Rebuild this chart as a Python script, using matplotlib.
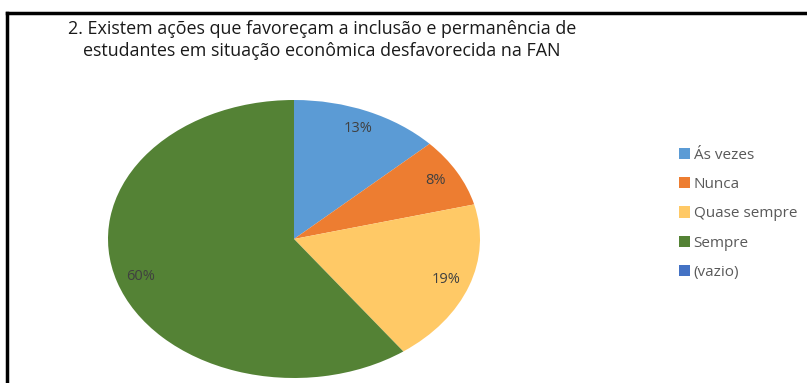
import matplotlib
matplotlib.use("Agg")
import matplotlib.pyplot as plt
from matplotlib.patches import Rectangle
import numpy as np

title = "2. Existem ações que favoreçam a inclusão e permanência de\nestudantes em situação econômica desfavorecida na FAN"
categories = ["Ás vezes", "Nunca", "Quase sempre", "Sempre", "(vazio)"]
values = [13, 8, 19, 60, 0]
labels_pct = ["13%", "8%", "19%", "60%", ""]
colors = ["#5B9BD5", "#ED7D31", "#FFC966", "#548235", "#4472C4"]

W, H = 807, 383
fig = plt.figure(figsize=(W / 100, H / 100), dpi=100)
fig.patch.set_facecolor("white")

# outer frame (top and left visible)
fig.add_artist(plt.Line2D([7 / W, 7 / W], [0, 1 - 13 / H], color="black", lw=2.5, transform=fig.transFigure))
fig.add_artist(plt.Line2D([7 / W, 1], [1 - 13 / H, 1 - 13 / H], color="black", lw=2.5, transform=fig.transFigure))

fig.text(322 / W, 1 - 40 / H, title, ha="center", va="center", fontsize=12.9,
         family="Open Sans", color="#1a1a1a", linespacing=1.3)

ax = fig.add_axes([108 / W, 5 / H, 372 / W, 278 / H])
wedges, texts = ax.pie(values, colors=colors, startangle=90, counterclock=False,
                       radius=1, wedgeprops=dict(linewidth=0))
for w, lab in zip(wedges, labels_pct):
    if not lab:
        continue
    ang = np.deg2rad((w.theta1 + w.theta2) / 2)
    r = 0.87
    ax.text(r * np.cos(ang), r * np.sin(ang), lab, ha="center", va="center",
            fontsize=10.5, color="#404040", family="Open Sans")
ax.set_aspect("auto")
ax.set_xlim(-1, 1)
ax.set_ylim(-1, 1)
ax.axis("off")

handles = [Rectangle((0, 0), 1, 1, facecolor=c) for c in colors]
leg = fig.legend(handles, categories, loc="upper left", bbox_to_anchor=(679 / W, 1 - 148 / H),
                 frameon=False, prop={"family": "Open Sans", "size": 11},
                 handlelength=0.75, handleheight=0.75, handletextpad=0.2, labelspacing=0.93,
                 borderaxespad=0, borderpad=0)
for t in leg.get_texts():
    t.set_color("#595959")

fig.savefig("out.png", dpi=100)
